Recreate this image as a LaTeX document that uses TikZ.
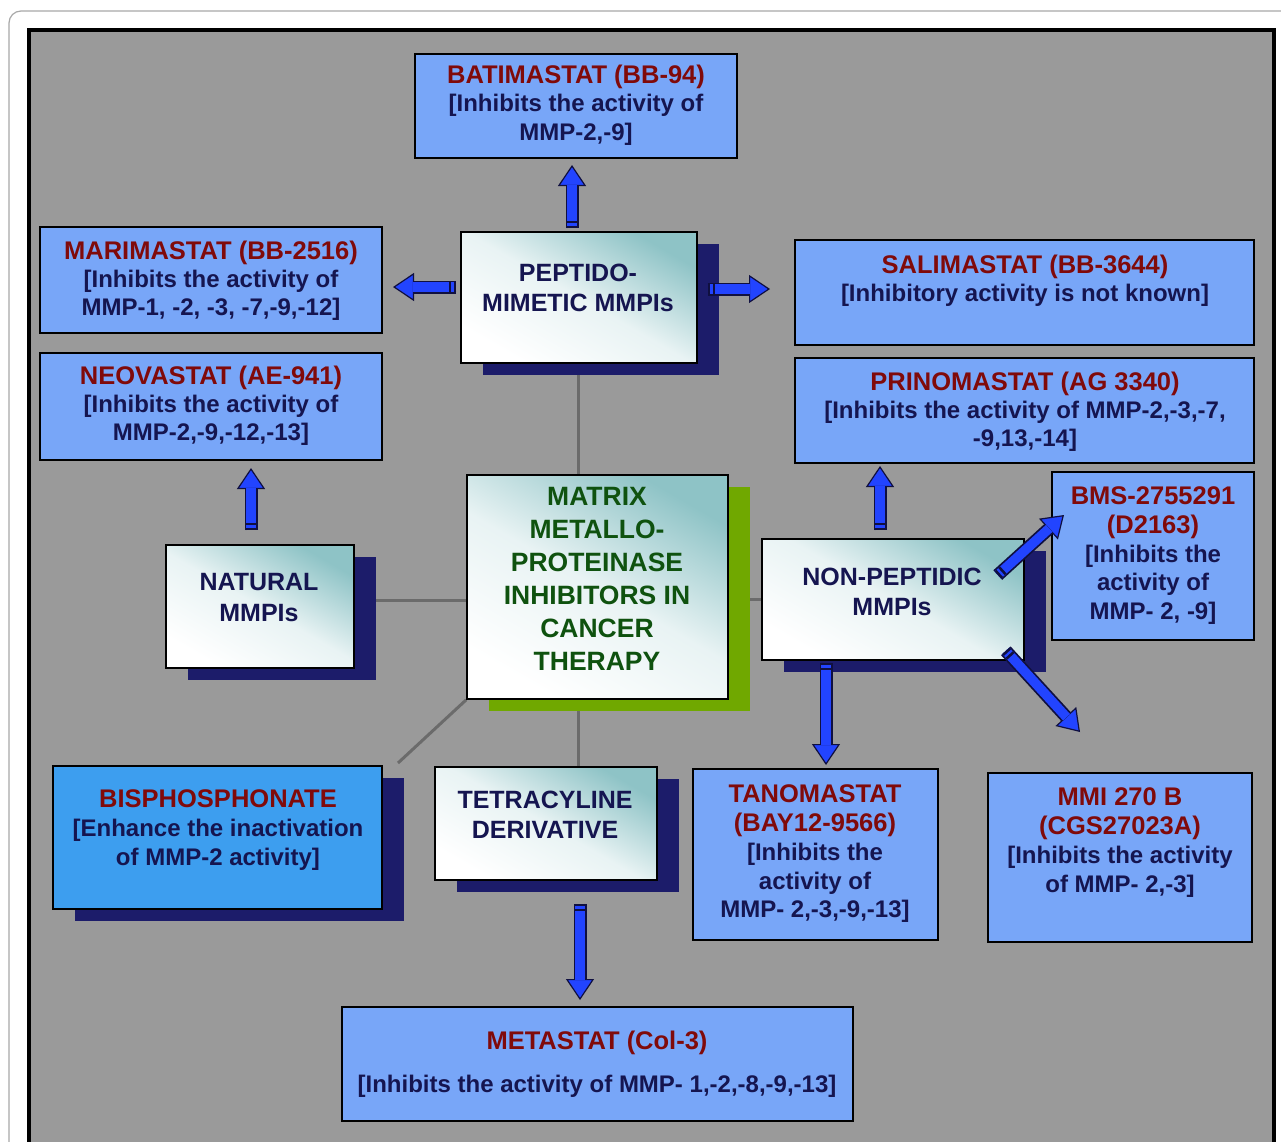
\documentclass[tikz,border=0pt]{standalone}
\usepackage{fontspec}
\setmainfont{Liberation Sans}
\usetikzlibrary{arrows.meta,shadows}
\definecolor{bggray}{HTML}{9A9A9A}
\definecolor{framegray}{HTML}{A8A8A8}
\definecolor{boxblue}{HTML}{78A6F8}
\definecolor{bisblue}{HTML}{3D9EEF}
\definecolor{navyshadow}{HTML}{1C1C6A}
\definecolor{greenshadow}{HTML}{70A800}
\definecolor{titlered}{HTML}{800A0A}
\definecolor{navytext}{HTML}{151550}
\definecolor{greentext}{HTML}{0F520F}
\definecolor{arrowblue}{HTML}{2244FF}
\definecolor{arrowedge}{HTML}{101040}
\definecolor{linkgray}{HTML}{6B6B6B}
\definecolor{tealc}{HTML}{8EC3C6}
\newcommand{\ttl}[1]{\textcolor{titlered}{\fontsize{25.5}{28.5}\selectfont #1}}
\pgfdeclarelayer{back}
\pgfdeclarelayer{lines}
\pgfsetlayers{back,lines,main}
\begin{document}
\begin{tikzpicture}[x=1pt,y=-1pt,
  bluebox/.style={rectangle, draw=black, line width=2pt, fill=boxblue, inner sep=0pt},
  bisbox/.style={bluebox, fill=bisblue, general shadow={fill=navyshadow, shadow xshift=22pt, shadow yshift=-12pt}},
  whitebox/.style={rectangle, draw=black, line width=1.6pt, inner sep=0pt,
    top color=tealc, bottom color=white, middle color=white!80!tealc, shading angle=-30,
    general shadow={fill=navyshadow, shadow xshift=22pt, shadow yshift=-12pt}},
  centrebox/.style={whitebox, general shadow={fill=greenshadow, shadow xshift=22pt, shadow yshift=-12pt}},
  bluetext/.style={align=center, inner sep=0pt, text=navytext, font=\bfseries\fontsize{24}{28.5}\selectfont},
  whitetext/.style={align=center, inner sep=0pt, text=navytext, font=\bfseries\fontsize{25}{30.5}\selectfont},
  centretext/.style={align=center, inner sep=0pt, text=greentext, font=\bfseries\fontsize{26.5}{33}\selectfont},
  link/.style={draw=linkgray, line width=3pt},
  blockarrow/.style={line width=13pt, draw=arrowedge,
    -{Triangle[length=21pt,width=28pt,line width=1.2pt,fill=arrowblue]},
    postaction={draw=arrowblue, line width=9.5pt, arrows=-, shorten >=20pt},
    postaction={draw=arrowedge, line width=9.5pt, arrows=-, dash pattern=on 2.5pt off 2.5pt on 2.5pt off 3000pt}}
]
\useasboundingbox (0,0) rectangle (1281,1141);
\begin{pgfonlayer}{back}
  \fill[white] (0,0) rectangle (1281,1141);
  \draw[framegray, line width=1.2pt, rounded corners=12pt] (9,11) rectangle (1310,1170);
  \draw[black, line width=4pt, fill=bggray] (29,30) rectangle (1274,1170);
\end{pgfonlayer}

% blue boxes
\node[bluebox, minimum width=322pt, minimum height=104pt] (bat) at (576,106) {};
\node[bluebox, minimum width=342pt, minimum height=106pt] (mari) at (211,280) {};
\node[bluebox, minimum width=342pt, minimum height=107pt] (neo) at (211,406.5) {};
\node[bluebox, minimum width=459pt, minimum height=105pt] (sali) at (1024.5,292.5) {};
\node[bluebox, minimum width=459pt, minimum height=105pt] (prino) at (1024.5,410.5) {};
\node[bluebox, minimum width=202pt, minimum height=168pt] (bms) at (1153,556) {};
\node[bluebox, minimum width=245pt, minimum height=171pt] (tano) at (815.5,854.5) {};
\node[bluebox, minimum width=264pt, minimum height=169pt] (mmi) at (1120,857.5) {};
\node[bluebox, minimum width=511pt, minimum height=114pt] (meta) at (597.5,1064) {};
\node[bisbox, minimum width=329pt, minimum height=143pt] (bis) at (217.5,837.5) {};

% white boxes
\node[whitebox, minimum width=236pt, minimum height=131pt] (pep) at (579,297.5) {};
\node[centrebox, minimum width=261pt, minimum height=224pt] (mat) at (597.5,587) {};
\node[whitebox, minimum width=188pt, minimum height=123pt] (nat) at (260,606.5) {};
\node[whitebox, minimum width=262pt, minimum height=121pt] (nonpep) at (893,599.5) {};
\node[whitebox, minimum width=222pt, minimum height=113pt] (tetra) at (546,823.5) {};

% texts
\node[bluetext] (batT) at (576,105) {\ttl{BATIMASTAT (BB-94)}\\[-0.5pt][Inhibits the activity of\\MMP-2,-9]};
\node[bluetext] (mariT) at (211,280.5) {\ttl{MARIMASTAT (BB-2516)}\\[-0.5pt][Inhibits the activity of\\MMP-1, -2, -3, -7,-9,-12]};
\node[bluetext] (neoT) at (211,405.5) {\ttl{NEOVASTAT (AE-941)}\\[-0.5pt][Inhibits the activity of\\MMP-2,-9,-12,-13]};
\node[bluetext] (saliT) at (1025,280.5) {\ttl{SALIMASTAT (BB-3644)}\\[-0.5pt][Inhibitory activity is not known]};
\node[bluetext] (prinoT) at (1025,411.5) {\ttl{PRINOMASTAT (AG 3340)}\\[-0.5pt][Inhibits the activity of MMP-2,-3,-7,\\-9,13,-14]};
\node[bluetext] (bmsT) at (1153,555.5) {\ttl{BMS-2755291}\\\ttl{(D2163)}\\[0.5pt][Inhibits the\\activity of\\MMP- 2, -9]};
\node[bluetext] (tanoT) at (815,854) {\ttl{TANOMASTAT}\\\ttl{(BAY12-9566)}\\[1pt][Inhibits the\\activity of\\MMP- 2,-3,-9,-13]};
\node[bluetext] (mmiT) at (1120,842.5) {\ttl{MMI 270 B}\\\ttl{(CGS27023A)}\\[1pt][Inhibits the activity\\of MMP- 2,-3]};
\node[bluetext] (metaT) at (597,1064) {\ttl{METASTAT (Col-3)}\\[15pt][Inhibits the activity of MMP- 1,-2,-8,-9,-13]};
\node[bluetext] (bisT) at (218,830) {\ttl{BISPHOSPHONATE}\\[1pt][Enhance the inactivation\\of MMP-2 activity]};

\node[whitetext] (pepT) at (578,288) {PEPTIDO-\\MIMETIC MMPIs};
\node[centretext] (matT) at (597,579) {MATRIX\\METALLO-\\PROTEINASE\\INHIBITORS IN\\CANCER\\THERAPY};
\node[whitetext] (natT) at (259,597.5) {NATURAL\\MMPIs};
\node[whitetext] (nonpepT) at (892,592) {NON-PEPTIDIC\\MMPIs};
\node[whitetext] (tetraT) at (545,815) {TETRACYLINE\\DERIVATIVE};

% grey links behind the boxes
\begin{pgfonlayer}{lines}
  \draw[link] ([xshift=-1pt]pep.south) -- ([xshift=-1pt]pep.south |- mat.north);
  \draw[link] ([yshift=6.5pt]nat.east) -- ([yshift=6.5pt]nat.east -| mat.west);
  \draw[link] (mat.east |- nonpep.west) -- (nonpep.west);
  \draw[link] ([xshift=-1pt]pep.south |- mat.south) -- ([xshift=-1pt]pep.south |- tetra.north);
  \draw[link] (mat.south west) -- ([xshift=15pt,yshift=2pt]bis.north east);
\end{pgfonlayer}

% blue block arrows
\draw[blockarrow] ([xshift=-7pt,yshift=3pt]pep.north) -- ([xshift=-4pt,yshift=-6pt]bat.south);
\draw[blockarrow] ([xshift=-4pt,yshift=10.5pt]pep.west) -- ([xshift=10pt,yshift=-7pt]mari.east);
\draw[blockarrow] ([xshift=10pt,yshift=8.5pt]pep.east) -- ([xshift=-24pt,yshift=3.5pt]sali.west);
\draw[blockarrow] ([xshift=-9pt,yshift=14pt]nat.north) -- ([xshift=40pt,yshift=-7pt]neo.south);
\draw[blockarrow] ([xshift=-13pt,yshift=8pt]nonpep.north) -- ([xshift=-144.5pt,yshift=-2pt]prino.south);
\draw[blockarrow] ([xshift=-27pt,yshift=24.5pt]nonpep.east) -- ([xshift=13pt,yshift=41pt]bms.west);
\draw[blockarrow] ([xshift=-19pt,yshift=10pt]nonpep.south east) -- ([xshift=93pt,yshift=40pt]mmi.north west);
\draw[blockarrow] ([xshift=-67pt,yshift=-2pt]nonpep.south) -- ([xshift=10.5pt,yshift=3pt]tano.north);
\draw[blockarrow] ([xshift=34pt,yshift=-23pt]tetra.south) -- ([xshift=-17.5pt,yshift=6pt]meta.north);
\end{tikzpicture}
\end{document}
